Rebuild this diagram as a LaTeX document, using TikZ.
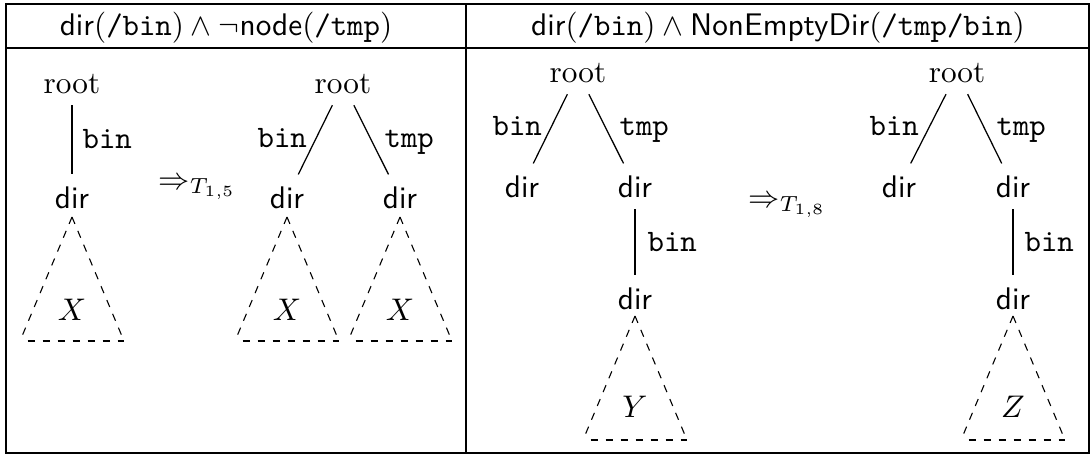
\documentclass[tikz,border=0pt]{standalone}
\begin{document}
\begin{tikzpicture}[x=0.32pt,y=-0.32pt,
  tn/.style={inner sep=3.6pt, anchor=base},
  dn/.style={tn, font=\sffamily},
  lbl/.style={inner sep=0pt, anchor=base west, font=\ttfamily},
  tri/.style={dash pattern=on 2.4pt off 2.4pt, line width=0.35pt},
  trib/.style={tri, dash phase=2.4pt},
  var/.style={inner sep=0pt},
  dtri/.pic={\draw[tri] (0,0) -- (-52,124); \draw[tri] (0,0) -- (52,124); \draw[trib] (-52,124) -- (52,124);}]
\useasboundingbox (0,0) rectangle (1090,455);
% table frame
\draw (6,4) rectangle (1089,453);
\draw (6,48) -- (1089,48);
\draw (466,4) -- (466,453);
% headers
\node[anchor=base, inner sep=0pt] (h1) at (226,35) {\textsf{dir}$($\texttt{/bin}$)\wedge\neg$\textsf{node}$($\texttt{/tmp}$)$};
\node[anchor=base, inner sep=0pt] (h2) at (778,35) {\textsf{dir}$($\texttt{/bin}$)\wedge{}$\textsf{NonEmptyDir}$($\texttt{/tmp/bin}$)$};
% ---- left panel, tree 1
\node[tn] (r1) at (72,93) {root};
\node[dn] (d1) at (72,208) {dir};
\draw (r1) -- (d1);
\node[lbl] (l1) at (82,148) {bin};
\pic at (72,217) {dtri};
\node[var] (x1) at (72,310) {$X$};
% arrow 1
\node[anchor=base west, inner sep=0pt] (a1) at (158,189) {$\Rightarrow_{T_{1,5}}$};
% ---- left panel, tree 2
\node[tn] (r2) at (343,93) {root};
\node[dn] (d2) at (287,208) {dir};
\node[dn] (d3) at (400,208) {dir};
\draw (r2) -- (d2);
\draw (r2) -- (d3);
\node[lbl] (l2) at (257,147) {bin};
\node[lbl] (l3) at (384,147) {tmp};
\pic at (287,217) {dtri};
\pic at (400,217) {dtri};
\node[var] (x2) at (287,310) {$X$};
\node[var] (x3) at (400,310) {$X$};
% ---- right panel, tree 3
\node[tn] (r3) at (578,82) {root};
\node[dn] (d4) at (522,197) {dir};
\node[dn] (d5) at (635,197) {dir};
\node[dn] (d6) at (635,309) {dir};
\draw (r3) -- (d4);
\draw (r3) -- (d5);
\draw (d5) -- (d6);
\node[lbl] (l4) at (492,135) {bin};
\node[lbl] (l5) at (619,135) {tmp};
\node[lbl] (l6) at (647,251) {bin};
\pic at (635,316) {dtri};
\node[var] (y1) at (635,407) {$Y$};
% arrow 2
\node[anchor=base west, inner sep=0pt] (a2) at (748,207) {$\Rightarrow_{T_{1,8}}$};
% ---- right panel, tree 4
\node[tn] (r4) at (957,82) {root};
\node[dn] (d7) at (899,197) {dir};
\node[dn] (d8) at (1013,197) {dir};
\node[dn] (d9) at (1013,309) {dir};
\draw (r4) -- (d7);
\draw (r4) -- (d8);
\draw (d8) -- (d9);
\node[lbl] (l7) at (869,135) {bin};
\node[lbl] (l8) at (996,135) {tmp};
\node[lbl] (l9) at (1024,251) {bin};
\pic at (1013,316) {dtri};
\node[var] (z1) at (1013,407) {$Z$};
\end{tikzpicture}
\end{document}
